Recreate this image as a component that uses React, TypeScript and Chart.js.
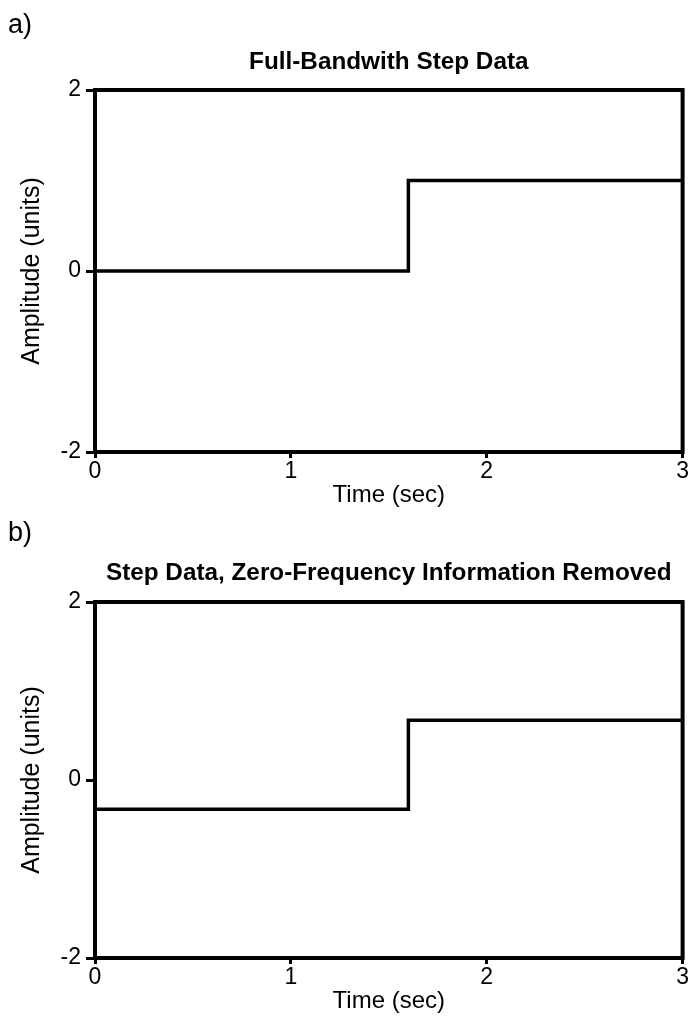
import React, { useEffect, useRef } from "react";
import { Chart, registerables } from "chart.js";

Chart.register(...registerables);

const stepTimes = [0, 1.6, 3];
const fullBandValues = [0, 1, 1];
const zeroFreqRemovedValues = [-0.33, 0.67, 0.67];
const xTicks = [0, 1, 2, 3];
const yTicks = [-2, 0, 2];
const titleA = "Full-Bandwith Step Data";
const titleB = "Step Data, Zero-Frequency Information Removed";
const xTitle = "Time (sec)";
const yTitle = "Amplitude (units)";

const FONT = "'Liberation Sans', Arial, Helvetica, sans-serif";

const framePlugin = {
  id: "frame",
  afterDraw(chart: any) {
    const { ctx, chartArea } = chart;
    ctx.save();
    ctx.strokeStyle = "#000";
    ctx.lineWidth = 4;
    ctx.strokeRect(chartArea.left, chartArea.top, chartArea.right - chartArea.left, chartArea.bottom - chartArea.top);
    ctx.restore();
  },
};

type PanelProps = {
  top: number;
  height: number;
  title: string;
  values: number[];
  plotTop: number;
  plotBottom: number;
  titlePadTop: number;
  xTitlePadBottom: number;
};

function Panel({ top, height, title, values, plotTop, plotBottom, titlePadTop, xTitlePadBottom }: PanelProps) {
  const ref = useRef<HTMLCanvasElement | null>(null);
  useEffect(() => {
    if (!ref.current) return;
    const titleSize = 24.3;
    const lineH = titleSize * 1.2;
    const chart = new Chart(ref.current, {
      type: "line",
      data: {
        datasets: [
          {
            data: stepTimes.map((t, i) => ({ x: t, y: values[i] })),
            stepped: "before",
            borderColor: "#000",
            borderWidth: 3.5,
            pointRadius: 0,
            fill: false,
          },
        ],
      },
      options: {
        animation: false,
        responsive: false,
        layout: { padding: { top: 0, left: 0, right: 6, bottom: 0 } },
        plugins: {
          legend: { display: false },
          tooltip: { enabled: false },
          title: {
            display: true,
            fullSize: false,
            text: title,
            color: "#000",
            font: { family: FONT, size: titleSize, weight: "bold", lineHeight: 1.2 },
            padding: { top: titlePadTop, bottom: plotTop - titlePadTop - lineH },
          },
        },
        scales: {
          x: {
            type: "linear",
            min: 0,
            max: 3,
            afterFit: (s: any) => {
              s.height = height - plotBottom;
            },
            afterBuildTicks: (s: any) => {
              s.ticks = xTicks.map((v) => ({ value: v }));
            },
            ticks: { color: "#000", font: { family: FONT, size: 23 }, padding: 0, maxRotation: 0 },
            grid: { drawOnChartArea: false, drawTicks: true, tickLength: 6, lineWidth: 3, color: "#000" },
            border: { display: false },
            title: {
              display: true,
              text: xTitle,
              color: "#000",
              font: { family: FONT, size: 24 },
              padding: { top: 0, bottom: xTitlePadBottom },
            },
          },
          y: {
            type: "linear",
            min: -2,
            max: 2,
            afterFit: (s: any) => {
              s.width = 95;
            },
            afterBuildTicks: (s: any) => {
              s.ticks = yTicks.map((v) => ({ value: v }));
            },
            ticks: { color: "#000", font: { family: FONT, size: 23 }, padding: 5 },
            grid: { drawOnChartArea: false, drawTicks: true, tickLength: 9, lineWidth: 3, color: "#000" },
            border: { display: false },
            title: {
              display: true,
              text: yTitle,
              color: "#000",
              font: { family: FONT, size: 25 },
              padding: { top: 17, bottom: 0 },
            },
          },
        },
      },
      plugins: [framePlugin],
    } as any);
    return () => chart.destroy();
  }, [title, values, plotTop, plotBottom, height, titlePadTop, xTitlePadBottom]);
  return (
    <div style={{ position: "absolute", left: 0, top, width: 689, height }}>
      <canvas ref={ref} width={689} height={height} style={{ width: 689, height, display: "block" }} />
    </div>
  );
}

const labelStyle: React.CSSProperties = {
  position: "absolute",
  left: 8,
  fontFamily: FONT,
  fontSize: 27,
  color: "#000",
  lineHeight: "30px",
  zIndex: 2,
};

export default function App() {
  return (
    <div style={{ position: "absolute", left: 0, top: 0, width: 689, height: 1018, background: "#fff", overflow: "hidden" }}>
      <Panel top={0} height={515} title={titleA} values={fullBandValues} plotTop={90} plotBottom={452} titlePadTop={48} xTitlePadBottom={5} />
      <Panel top={515} height={503} title={titleB} values={zeroFreqRemovedValues} plotTop={87} plotBottom={443} titlePadTop={44} xTitlePadBottom={2} />
      <div style={{ ...labelStyle, top: 9 }}>a)</div>
      <div style={{ ...labelStyle, top: 517 }}>b)</div>
    </div>
  );
}
